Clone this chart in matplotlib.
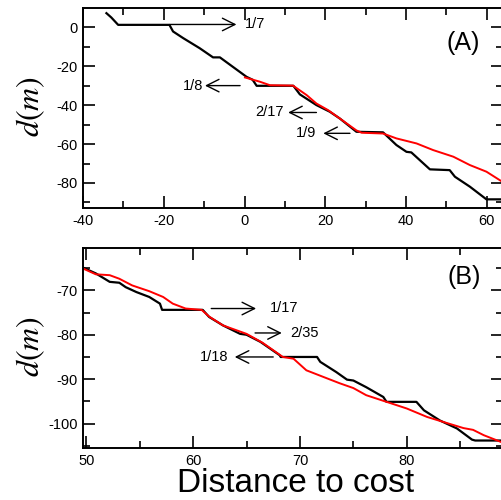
import numpy as np
import matplotlib
matplotlib.use('Agg')
import matplotlib.pyplot as plt
from matplotlib.ticker import MultipleLocator

plt.rcParams['font.family'] = ['Liberation Sans', 'DejaVu Sans']
plt.rcParams['mathtext.fontset'] = 'stix'
plt.rcParams['axes.unicode_minus'] = False

# panel A data
a_black_x = [-34.2, -33.0, -31.3, -18.6, -17.7, -15.2, -11.1, -7.8, -6.1, 0.5, 2.0, 3.0,
             12.1, 13.7, 17.8, 21.1, 23.6, 27.7, 34.3, 37.6, 40.1, 41.3, 45.9, 50.8,
             52.1, 55.8, 59.9, 64.0]
a_black_y = [7.2, 5.0, 1.2, 1.2, -2.2, -5.6, -10.8, -15.5, -15.5, -25.5, -27.0, -30.1,
             -30.1, -34.5, -40.0, -43.4, -46.9, -53.7, -54.0, -60.5, -64.0, -64.3, -73.0, -73.4,
             -76.8, -81.9, -88.4, -88.4]
a_red_x = [0.1, 3.8, 6.3, 12.0, 15.4, 17.8, 20.7, 24.0, 27.7, 29.0, 34.3, 37.6, 42.6,
           46.7, 51.7, 55.8, 59.9, 64.0]
a_red_y = [-25.8, -28.0, -29.8, -30.0, -34.9, -39.2, -42.6, -47.5, -53.0, -54.2, -54.6,
           -57.1, -59.7, -63.1, -66.5, -70.8, -74.2, -79.6]

# panel B data
b_black_x = [49.7, 50.9, 52.2, 53.1, 53.7, 54.7, 55.9, 56.9, 57.1, 60.9, 61.5, 62.8, 64.4,
             65.0, 66.3, 68.1, 68.2, 71.6, 71.9, 73.4, 74.4, 75.0, 76.2, 77.8, 78.1, 80.9,
             81.6, 83.1, 84.7, 86.1, 86.4, 89.0]
b_black_y = [-64.9, -66.2, -68.1, -68.3, -69.3, -70.4, -71.5, -73.0, -74.4, -74.4, -76.0,
             -77.9, -79.8, -80.0, -81.6, -84.6, -85.0, -85.0, -86.1, -88.4, -90.1, -90.3,
             -91.8, -94.0, -95.1, -95.1, -97.0, -99.3, -101.1, -103.6, -103.8, -103.8]
b_red_x = [49.7, 50.9, 52.2, 53.1, 54.3, 55.9, 57.2, 58.1, 59.3, 60.8, 61.5, 62.8, 65.0,
           66.5, 68.4, 69.4, 70.6, 72.2, 73.7, 75.0, 76.2, 78.1, 80.0, 81.9, 83.8, 85.3,
           86.2, 87.2, 89.0]
b_red_y = [-65.1, -66.4, -66.6, -67.4, -68.9, -70.2, -71.5, -73.0, -74.1, -74.4, -75.9,
           -77.9, -79.8, -81.8, -85.0, -85.4, -88.0, -89.5, -90.9, -92.0, -93.6, -95.1,
           -96.6, -98.5, -99.9, -101.0, -101.4, -102.6, -104.3]

fig = plt.figure(figsize=(5.02, 5.0), dpi=100)
axA = fig.add_axes([83/502, 1 - 208.3/500, 420/502, 200/500])
axB = fig.add_axes([83/502, 1 - 448.3/500, 420/502, 200/500])


def style(ax, xmaj, xmin, ymaj, ymin):
    for s in ax.spines.values():
        s.set_linewidth(1.4)
    ax.xaxis.set_major_locator(MultipleLocator(xmaj))
    ax.xaxis.set_minor_locator(MultipleLocator(xmin))
    ax.yaxis.set_major_locator(MultipleLocator(ymaj))
    ax.yaxis.set_minor_locator(MultipleLocator(ymin))
    ax.tick_params(which='both', direction='in', top=True, right=True, width=1.2,
                   labelsize=10.5, pad=4)
    ax.tick_params(which='major', length=8.5)
    ax.tick_params(which='minor', length=5)


def arrow(ax, head, tail):
    ax.annotate('', xy=head, xytext=tail,
                arrowprops=dict(arrowstyle='->,head_length=0.9,head_width=0.45',
                                color='black', lw=1.0, shrinkA=0, shrinkB=0,
                                mutation_scale=10))


axA.plot(a_black_x, a_black_y, color='black', lw=1.6)
axA.plot(a_red_x, a_red_y, color='red', lw=1.4)
axA.set_xlim(-40, 64)
axA.set_ylim(-93, 9.7)
style(axA, 20, 10, 20, 10)

arrow(axA, (-2, 1.4), (-18.5, 1.4))
axA.text(0.0, 1.4, '1/7', ha='left', va='center', fontsize=10.5)
arrow(axA, (-9.8, -30), (-1.1, -30))
axA.text(-10.3, -30, '1/8', ha='right', va='center', fontsize=10.5)
arrow(axA, (10.8, -43.8), (17.8, -43.8))
axA.text(9.6, -43.8, '2/17', ha='right', va='center', fontsize=10.5)
arrow(axA, (19.5, -54.5), (26.1, -54.5))
axA.text(17.8, -54.5, '1/9', ha='right', va='center', fontsize=10.5)
axA.text(0.905, 0.826, '(A)', transform=axA.transAxes, ha='center', va='center', fontsize=18)

axB.plot(b_black_x, b_black_y, color='black', lw=1.6)
axB.plot(b_red_x, b_red_y, color='red', lw=1.4)
axB.set_xlim(49.7, 89)
axB.set_ylim(-105.55, -60.55)
style(axB, 10, 5, 10, 5)

arrow(axB, (65.9, -74.1), (61.7, -74.1))
axB.text(67.2, -74.0, '1/17', ha='left', va='center', fontsize=10.5)
arrow(axB, (68.3, -79.6), (65.8, -79.6))
axB.text(69.1, -79.5, '2/35', ha='left', va='center', fontsize=10.5)
arrow(axB, (63.9, -85.0), (67.5, -85.0))
axB.text(63.3, -85.0, '1/18', ha='right', va='center', fontsize=10.5)
axB.text(0.907, 0.858, '(B)', transform=axB.transAxes, ha='center', va='center', fontsize=18)

fig.text(31/502, 1 - 107/500, '$d(m)$', rotation=90, ha='center', va='center', fontsize=23)
fig.text(31/502, 1 - 347/500, '$d(m)$', rotation=90, ha='center', va='center', fontsize=23)
fig.text(295.5/502, 1 - 492/500, 'Distance to cost', ha='center', va='baseline', fontsize=24)

fig.savefig('out.png', dpi=100)
